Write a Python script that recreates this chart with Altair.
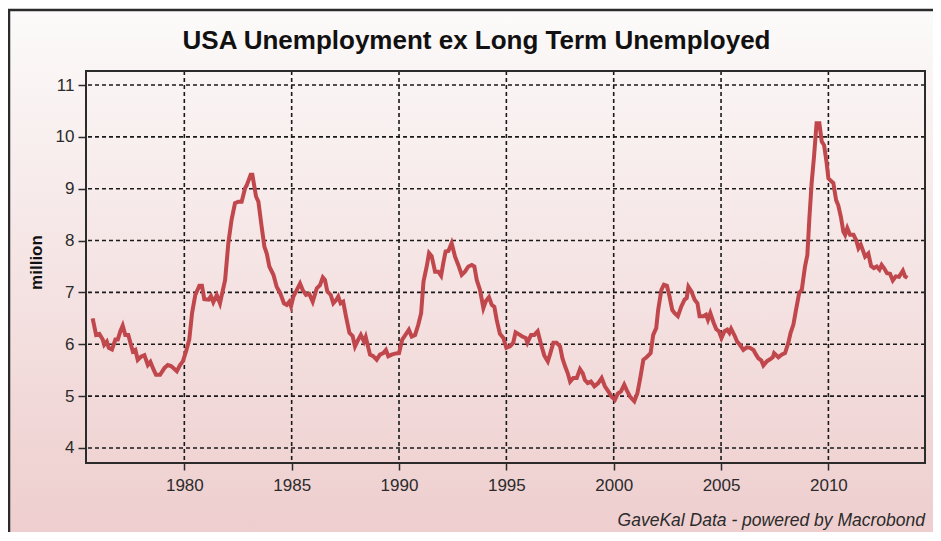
import altair as alt
import pandas as pd

years = [1975.73, 1975.89, 1976.04, 1976.20, 1976.27, 1976.39, 1976.48, 1976.63, 1976.79, 1976.90,
         1977.02, 1977.13, 1977.25, 1977.39, 1977.60, 1977.72, 1977.83, 1977.98, 1978.14, 1978.30,
         1978.42, 1978.57, 1978.68, 1978.87, 1979.07, 1979.23, 1979.38, 1979.49, 1979.65, 1979.80,
         1979.93, 1980.08, 1980.23, 1980.36, 1980.51, 1980.70, 1980.82, 1980.93, 1981.13, 1981.24,
         1981.35, 1981.51, 1981.66, 1981.90, 1982.05, 1982.20, 1982.36, 1982.52, 1982.67, 1982.83,
         1982.91, 1983.09, 1983.17, 1983.34, 1983.45, 1983.60, 1983.73, 1983.84, 1983.96, 1984.15,
         1984.30, 1984.46, 1984.64, 1984.77, 1984.89, 1984.97, 1985.08, 1985.24, 1985.39, 1985.51,
         1985.67, 1985.82, 1985.98, 1986.17, 1986.32, 1986.45, 1986.55, 1986.66, 1986.82, 1986.94,
         1987.07, 1987.17, 1987.28, 1987.40, 1987.53, 1987.69, 1987.84, 1987.95, 1988.10, 1988.22,
         1988.37, 1988.45, 1988.65, 1988.80, 1988.96, 1989.11, 1989.27, 1989.39, 1989.50, 1989.66,
         1989.81, 1990.00, 1990.15, 1990.30, 1990.46, 1990.59, 1990.75, 1990.90, 1991.03, 1991.14,
         1991.29, 1991.40, 1991.52, 1991.68, 1991.83, 1991.96, 1992.06, 1992.17, 1992.30, 1992.45,
         1992.61, 1992.76, 1992.92, 1993.07, 1993.23, 1993.39, 1993.51, 1993.62, 1993.77, 1993.93,
         1994.04, 1994.19, 1994.32, 1994.44, 1994.55, 1994.70, 1994.86, 1995.00, 1995.17, 1995.32,
         1995.43, 1995.59, 1995.74, 1995.90, 1995.98, 1996.15, 1996.30, 1996.46, 1996.62, 1996.77,
         1996.93, 1997.03, 1997.19, 1997.34, 1997.50, 1997.61, 1997.74, 1997.86, 1997.97, 1998.12,
         1998.28, 1998.43, 1998.56, 1998.66, 1998.79, 1998.94, 1999.10, 1999.28, 1999.44, 1999.59,
         1999.75, 1999.90, 2000.06, 2000.19, 2000.34, 2000.49, 2000.60, 2000.76, 2000.96, 2001.10,
         2001.23, 2001.38, 2001.53, 2001.72, 2001.84, 2001.98, 2002.07, 2002.22, 2002.34, 2002.48,
         2002.60, 2002.73, 2002.84, 2002.99, 2003.15, 2003.30, 2003.40, 2003.48, 2003.62, 2003.77,
         2003.90, 2004.00, 2004.17, 2004.30, 2004.39, 2004.50, 2004.66, 2004.78, 2004.90, 2005.02,
         2005.16, 2005.29, 2005.39, 2005.47, 2005.65, 2005.75, 2005.88, 2006.04, 2006.20, 2006.35,
         2006.51, 2006.63, 2006.74, 2006.87, 2006.97, 2007.13, 2007.28, 2007.41, 2007.47, 2007.67,
         2007.82, 2007.98, 2008.13, 2008.24, 2008.37, 2008.49, 2008.64, 2008.76, 2008.91, 2009.02,
         2009.11, 2009.22, 2009.33, 2009.45, 2009.58, 2009.69, 2009.80, 2009.92, 2010.00, 2010.15,
         2010.23, 2010.36, 2010.46, 2010.58, 2010.70, 2010.78, 2010.88, 2011.01, 2011.17, 2011.29,
         2011.40, 2011.51, 2011.60, 2011.71, 2011.86, 2011.99, 2012.12, 2012.25, 2012.38, 2012.48,
         2012.59, 2012.73, 2012.87, 2013.00, 2013.14, 2013.29, 2013.47, 2013.57, 2013.68]

values = [6.50, 6.18, 6.20, 6.09, 5.99, 6.05, 5.93, 5.90, 6.09, 6.09,
          6.25, 6.36, 6.18, 6.18, 5.86, 5.89, 5.70, 5.76, 5.79, 5.60,
          5.66, 5.51, 5.41, 5.41, 5.54, 5.60, 5.58, 5.54, 5.48, 5.60,
          5.67, 5.86, 6.09, 6.60, 6.95, 7.13, 7.13, 6.87, 6.86, 6.93,
          6.81, 6.95, 6.79, 7.24, 7.95, 8.40, 8.72, 8.75, 8.75, 9.01,
          9.07, 9.27, 9.27, 8.85, 8.75, 8.27, 7.88, 7.75, 7.50, 7.34,
          7.11, 6.99, 6.79, 6.76, 6.82, 6.73, 6.92, 7.05, 7.17, 7.05,
          6.95, 6.97, 6.82, 7.08, 7.14, 7.29, 7.24, 7.02, 6.95, 6.79,
          6.85, 6.92, 6.79, 6.82, 6.54, 6.22, 6.16, 5.96, 6.09, 6.18,
          6.05, 6.14, 5.80, 5.77, 5.70, 5.80, 5.83, 5.89, 5.77, 5.80,
          5.82, 5.83, 6.09, 6.18, 6.28, 6.15, 6.18, 6.38, 6.60, 7.21,
          7.50, 7.76, 7.70, 7.40, 7.40, 7.32, 7.56, 7.79, 7.80, 7.95,
          7.69, 7.53, 7.34, 7.40, 7.50, 7.53, 7.50, 7.24, 7.05, 6.70,
          6.83, 6.91, 6.76, 6.72, 6.47, 6.20, 6.12, 5.93, 5.96, 6.03,
          6.23, 6.19, 6.15, 6.12, 6.03, 6.18, 6.18, 6.25, 5.99, 5.78,
          5.67, 5.80, 6.03, 6.03, 5.96, 5.73, 5.57, 5.44, 5.28, 5.35,
          5.35, 5.52, 5.44, 5.31, 5.25, 5.28, 5.19, 5.25, 5.35, 5.19,
          5.09, 4.99, 4.93, 5.05, 5.09, 5.22, 5.12, 4.99, 4.90, 5.05,
          5.33, 5.70, 5.75, 5.83, 6.18, 6.31, 6.66, 7.05, 7.15, 7.13,
          6.92, 6.66, 6.60, 6.54, 6.73, 6.86, 6.89, 7.11, 7.02, 6.86,
          6.79, 6.54, 6.54, 6.57, 6.47, 6.60, 6.41, 6.29, 6.25, 6.12,
          6.25, 6.28, 6.22, 6.30, 6.15, 6.05, 5.99, 5.89, 5.94, 5.93,
          5.89, 5.80, 5.73, 5.69, 5.59, 5.67, 5.71, 5.75, 5.83, 5.75,
          5.80, 5.83, 6.02, 6.22, 6.38, 6.66, 6.99, 7.05, 7.50, 7.72,
          8.40, 9.11, 9.62, 10.26, 10.26, 9.91, 9.84, 9.49, 9.20, 9.14,
          9.11, 8.78, 8.68, 8.46, 8.17, 8.11, 8.24, 8.11, 8.11, 8.01,
          7.85, 7.92, 7.82, 7.69, 7.75, 7.51, 7.47, 7.50, 7.44, 7.53,
          7.47, 7.37, 7.36, 7.23, 7.31, 7.30, 7.42, 7.31, 7.28]

y_ticks = [4, 5, 6, 7, 8, 9, 10, 11]
x_ticks = [1980, 1985, 1990, 1995, 2000, 2005, 2010]
title_text = "USA Unemployment ex Long Term Unemployed"
y_title = "million"
source_note = "GaveKal Data - powered by Macrobond"

W, H = 839, 392
FONT = "Liberation Sans, Arial, sans-serif"
INK = "#2b2b2b"

df = pd.DataFrame({"year": years, "value": values})
xs = alt.Scale(domain=[1975.42, 2014.5], nice=False, zero=False)
ys = alt.Scale(domain=[3.71, 11.27], nice=False, zero=False)
one = pd.DataFrame({"k": [0]})

x_axis = alt.Axis(values=x_ticks, format="d", title=None, grid=False, domain=False,
                  tickSize=7, tickColor=INK, tickWidth=1.5, labelFont=FONT,
                  labelFontSize=17, labelColor=INK, labelPadding=7, zindex=1)
y_axis = alt.Axis(values=y_ticks, format="d", title=y_title, grid=False, domain=False,
                  tickSize=8, tickColor=INK, tickWidth=1.5, labelFont=FONT,
                  labelFontSize=17, labelColor=INK, labelPadding=4,
                  titleFont=FONT, titleFontSize=17, titleFontWeight="bold",
                  titleColor="#111", titleAngle=270, titleX=-50, titleY=191,
                  titleAlign="center", titleBaseline="middle", zindex=1)

bg = alt.Chart(one).mark_rect(
    fill=alt.LinearGradient(
        gradient="linear", x1=0, y1=0, x2=0, y2=1,
        stops=[alt.GradientStop(color="#fcfafa", offset=0),
               alt.GradientStop(color="#eecdcd", offset=0.93),
               alt.GradientStop(color="#eecdcd", offset=1)]),
    stroke=INK, strokeWidth=2.5,
).encode(x=alt.value(-77), x2=alt.value(W + 60), y=alt.value(-61), y2=alt.value(H + 120))

grid_style = dict(color="#1a1a1a", strokeWidth=1.6, strokeDash=[4, 3])
hgrid = alt.Chart(pd.DataFrame({"value": y_ticks})).mark_rule(**grid_style).encode(
    y=alt.Y("value:Q", scale=ys, axis=y_axis))
vgrid = alt.Chart(pd.DataFrame({"year": x_ticks})).mark_rule(**grid_style).encode(
    x=alt.X("year:Q", scale=xs, axis=x_axis))

line = alt.Chart(df).mark_line(color="#c0474c", strokeWidth=4).encode(
    x=alt.X("year:Q", scale=xs, axis=x_axis),
    y=alt.Y("value:Q", scale=ys, axis=y_axis),
)

border = alt.Chart(one).mark_rect(filled=False, stroke=INK, strokeWidth=2).encode(
    x=alt.value(0), x2=alt.value(W), y=alt.value(0), y2=alt.value(H))

title = alt.Chart(one).mark_text(
    align="center", baseline="alphabetic", font=FONT, fontSize=26, fontWeight="bold",
    color="#111").encode(x=alt.value(W / 2 - 29), y=alt.value(-22), text=alt.value(title_text))

footer = alt.Chart(one).mark_text(
    align="right", baseline="alphabetic", font=FONT, fontSize=17.5, fontStyle="italic",
    color=INK).encode(x=alt.value(W), y=alt.value(H + 63), text=alt.value(source_note))

chart = alt.layer(bg, hgrid, vgrid, line, border, title, footer).properties(
    width=W, height=H,
    padding={"left": 78, "top": 63, "right": 8, "bottom": 69},
    autosize=alt.AutoSizeParams(type="none"),
).configure_view(stroke=None)

chart.save("out.html", embed_options={"renderer": "svg", "actions": False})
